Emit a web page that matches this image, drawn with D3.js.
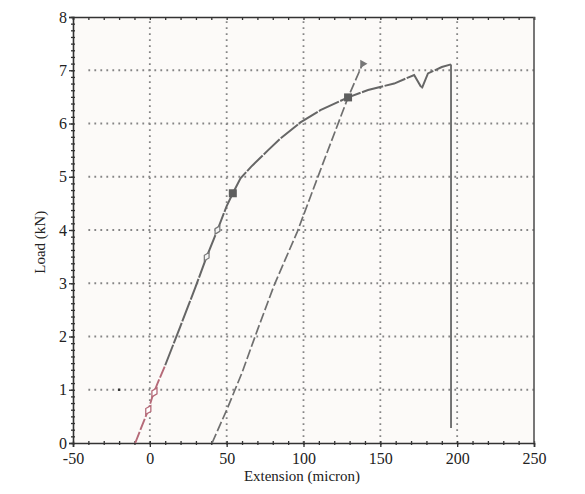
<!DOCTYPE html>
<html>
<head>
<meta charset="utf-8">
<script src="https://cdn.jsdelivr.net/npm/d3@7"></script>
<style>
  body { margin: 0; background: #fff; }
  text { font-family: "Liberation Serif", "Times New Roman", serif; fill: #222; }
</style>
</head>
<body>
<div id="chart"></div>
<script>
/** Données lues sur la figure */
// courbe de chargement (partie rouge au début)
var loadRed = [[-9.5, 0], [-5, 0.33], [-1, 0.62], [2, 0.9], [5, 1.12], [10, 1.46]];
// courbe de chargement principale
var loadMain = [[10, 1.46], [20, 2.2], [30, 2.95], [37, 3.5], [44, 4.0], [50, 4.45],
    [54, 4.69], [59, 4.97], [66, 5.19], [77, 5.5], [85, 5.72], [98, 6.02], [111, 6.25],
    [129, 6.49], [142, 6.63], [159, 6.75], [172, 6.91], [177, 6.66], [181, 6.94],
    [190, 7.06], [196, 7.11]];
// chute brutale à la rupture
var rupture = [[196, 7.11], [196, 0.28]];
// déchargement / rechargement
var reload = [[40.5, 0], [50, 0.62], [60, 1.32], [70, 2.12], [81, 2.97], [96, 3.97],
    [112, 5.2], [129, 6.49], [138.5, 7.12]];
// marqueurs
var squareMarks = [[54, 4.69], [129, 6.49]];
var hollowRed = [[-1, 0.62], [3, 0.95]];
var hollowGray = [[37, 3.5], [44, 4.0]];
var triangleMark = [[138.5, 7.12]];
var strayDot = [[-20, 1.0]];

var xTicks = [-50, 0, 50, 100, 150, 200, 250];
var yTicks = [0, 1, 2, 3, 4, 5, 6, 7, 8];
var xLabel = "Extension (micron)";
var yLabel = "Load (kN)";

/** Initialisation du SVG */
var width = 585,
    height = 494;
var margin = { left: 73, right: 51, top: 17, bottom: 51 };

var svg = d3.select("#chart").append("svg")
    .attr("width", width)
    .attr("height", height);

var x = d3.scaleLinear().domain([-50, 250]).range([margin.left, width - margin.right]);
var y = d3.scaleLinear().domain([0, 8]).range([height - margin.bottom, margin.top]);

// fond légèrement teinté (scan)
svg.append("rect")
    .attr("x", x(-50)).attr("y", y(8))
    .attr("width", x(250) - x(-50)).attr("height", y(0) - y(8))
    .attr("fill", "#fcfaf8");

// grille pointillée
var grid = svg.append("g").attr("stroke", "#858585").attr("stroke-width", 1.8)
    .attr("stroke-dasharray", "1.8,4.2").attr("stroke-linecap", "butt");
grid.selectAll(".gx").data(xTicks.filter(function (d) { return d > -50 && d < 250; }))
    .enter().append("line")
    .attr("x1", function (d) { return x(d); }).attr("x2", function (d) { return x(d); })
    .attr("y1", y(0)).attr("y2", y(8));
grid.selectAll(".gy").data(yTicks.filter(function (d) { return d > 0 && d < 8; }))
    .enter().append("line")
    .attr("x1", x(-40)).attr("x2", x(250))
    .attr("y1", function (d) { return y(d); }).attr("y2", function (d) { return y(d); });

// axes
var xMinor = d3.range(-50, 251, 10);
var yMinor = d3.range(0, 8.01, 0.125);
var plain = function (d) { return String(d); };

var xAxis = svg.append("g").attr("transform", "translate(0," + y(0) + ")")
    .call(d3.axisBottom(x).tickValues(xTicks).tickSize(4).tickPadding(6).tickFormat(plain));
var xAxisMinor = svg.append("g").attr("transform", "translate(0," + (y(0) + 2) + ")")
    .call(d3.axisBottom(x).tickValues(xMinor).tickSize(-4).tickFormat(""));
var topAxis = svg.append("g").attr("transform", "translate(0," + y(8) + ")")
    .call(d3.axisBottom(x).tickValues(xMinor).tickSize(3).tickFormat(""));
var yAxis = svg.append("g").attr("transform", "translate(" + x(-50) + ",0)")
    .call(d3.axisLeft(y).tickValues(yTicks).tickSize(4).tickPadding(2).tickFormat(plain));
var yAxisMinor = svg.append("g").attr("transform", "translate(" + (x(-50) - 2) + ",0)")
    .call(d3.axisLeft(y).tickValues(yMinor).tickSize(-4).tickFormat(""));

[xAxis, xAxisMinor, topAxis, yAxis, yAxisMinor].forEach(function (g) {
    g.attr("font-size", null).attr("font-family", null);
    g.selectAll("line").attr("stroke", "#333").attr("stroke-width", 1.3);
    g.select(".domain").attr("stroke", "#333").attr("stroke-width", 1.6);
});
[xAxisMinor, yAxisMinor].forEach(function (g) { g.select(".domain").remove(); });
xAxis.selectAll("text").style("font-size", "16px").attr("fill", "#222");
yAxis.selectAll("text").style("font-size", "16px").attr("fill", "#222");

// cadre droit
svg.append("line")
    .attr("x1", x(250)).attr("x2", x(250)).attr("y1", y(0)).attr("y2", y(8))
    .attr("stroke", "#555").attr("stroke-width", 1.6);

// titres des axes
svg.append("text")
    .attr("x", 302).attr("y", y(0) + 38)
    .attr("text-anchor", "middle").style("font-size", "15px")
    .text(xLabel);
svg.append("text")
    .attr("transform", "translate(45," + y(3.77) + ") rotate(-90)")
    .attr("text-anchor", "middle").style("font-size", "15px")
    .text(yLabel);

/** Courbes */
var line = d3.line()
    .x(function (d) { return x(d[0]); })
    .y(function (d) { return y(d[1]); });

svg.append("path").datum(reload)
    .attr("d", line).attr("fill", "none")
    .attr("stroke", "#6f6f6f").attr("stroke-width", 1.7)
    .attr("stroke-dasharray", "10,3");

svg.append("path").datum(loadMain)
    .attr("d", line).attr("fill", "none")
    .attr("stroke", "#666").attr("stroke-width", 2)
    .attr("stroke-dasharray", "22,1.5");

svg.append("path").datum(rupture)
    .attr("d", line).attr("fill", "none")
    .attr("stroke", "#666").attr("stroke-width", 1.8);

svg.append("path").datum(loadRed)
    .attr("d", line).attr("fill", "none")
    .attr("stroke", "#b56a78").attr("stroke-width", 1.9)
    .attr("stroke-dasharray", "12,2");

// marqueurs
svg.selectAll(".sq").data(squareMarks).enter().append("rect")
    .attr("x", function (d) { return x(d[0]) - 4; })
    .attr("y", function (d) { return y(d[1]) - 4; })
    .attr("width", 8).attr("height", 8)
    .attr("fill", "#5e5e5e");

svg.selectAll(".hr").data(hollowRed).enter().append("path")
    .attr("transform", function (d) { return "translate(" + x(d[0]) + "," + y(d[1]) + ") rotate(30)"; })
    .attr("d", d3.symbol().type(d3.symbolDiamond).size(30))
    .attr("fill", "#fff").attr("stroke", "#b56a78").attr("stroke-width", 1.3);

svg.selectAll(".hg").data(hollowGray).enter().append("path")
    .attr("transform", function (d) { return "translate(" + x(d[0]) + "," + y(d[1]) + ") rotate(30)"; })
    .attr("d", d3.symbol().type(d3.symbolDiamond).size(26))
    .attr("fill", "#f4f4f4").attr("stroke", "#777").attr("stroke-width", 1.2);

svg.selectAll(".tri").data(triangleMark).enter().append("path")
    .attr("transform", function (d) { return "translate(" + x(d[0]) + "," + y(d[1]) + ") rotate(90)"; })
    .attr("d", d3.symbol().type(d3.symbolTriangle).size(30))
    .attr("fill", "#777");

svg.selectAll(".dot").data(strayDot).enter().append("rect")
    .attr("x", function (d) { return x(d[0]) - 1.2; })
    .attr("y", function (d) { return y(d[1]) - 1.2; })
    .attr("width", 2.4).attr("height", 2.4)
    .attr("fill", "#333");
</script>
</body>
</html>
